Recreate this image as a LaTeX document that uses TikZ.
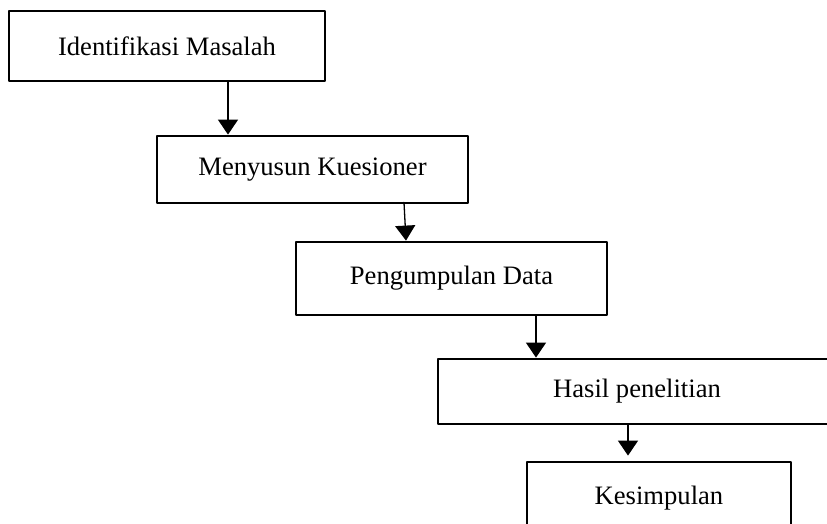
\documentclass[tikz,border=0pt]{standalone}
\usepackage{fontspec}
\setmainfont{Liberation Serif}
\usetikzlibrary{arrows.meta}

\begin{document}
\begin{tikzpicture}[line cap=round,line join=round,x=0.5pt,y=-0.5pt,
            >={Triangle[length=7.5pt,width=10pt]},
            box/.style={draw,line width=1.4pt,inner sep=0pt,font=\fontsize{13.3}{16}\selectfont},
            arr/.style={->,line width=0.65pt}]
            \clip(0.,0.) rectangle (827.,524.);

            \node [box,minimum width=158pt,minimum height=35pt] (ident) at (167,46) {Identifikasi Masalah};
            \node [box,minimum width=155.5pt,minimum height=33.5pt] (kuesioner) at (312.5,169.5) {Menyusun Kuesioner};
            \node [box,minimum width=155.5pt,minimum height=36.5pt] (data) at (451.5,278.5) {Pengumpulan Data};
            \node [box,minimum width=199pt,minimum height=32.5pt] (hasil) at (637,391.5) {Hasil penelitian};
            \node [box,minimum width=132pt,minimum height=36pt] (simpul) at (659,498) {Kesimpulan};

            \draw [arr] ([xshift=30.5pt]ident.south) -- ([xshift=-42.25pt]kuesioner.north);
            \draw [arr] ([xshift=45.75pt,yshift=1pt]kuesioner.south) -- ([xshift=-22.75pt]data.north);
            \draw [arr] ([xshift=42.25pt]data.south) -- ([xshift=-50.5pt]hasil.north);
            \draw [arr] ([xshift=-4.5pt]hasil.south) -- ([xshift=-15.5pt,yshift=2.5pt]simpul.north);
\end{tikzpicture}
\end{document}
